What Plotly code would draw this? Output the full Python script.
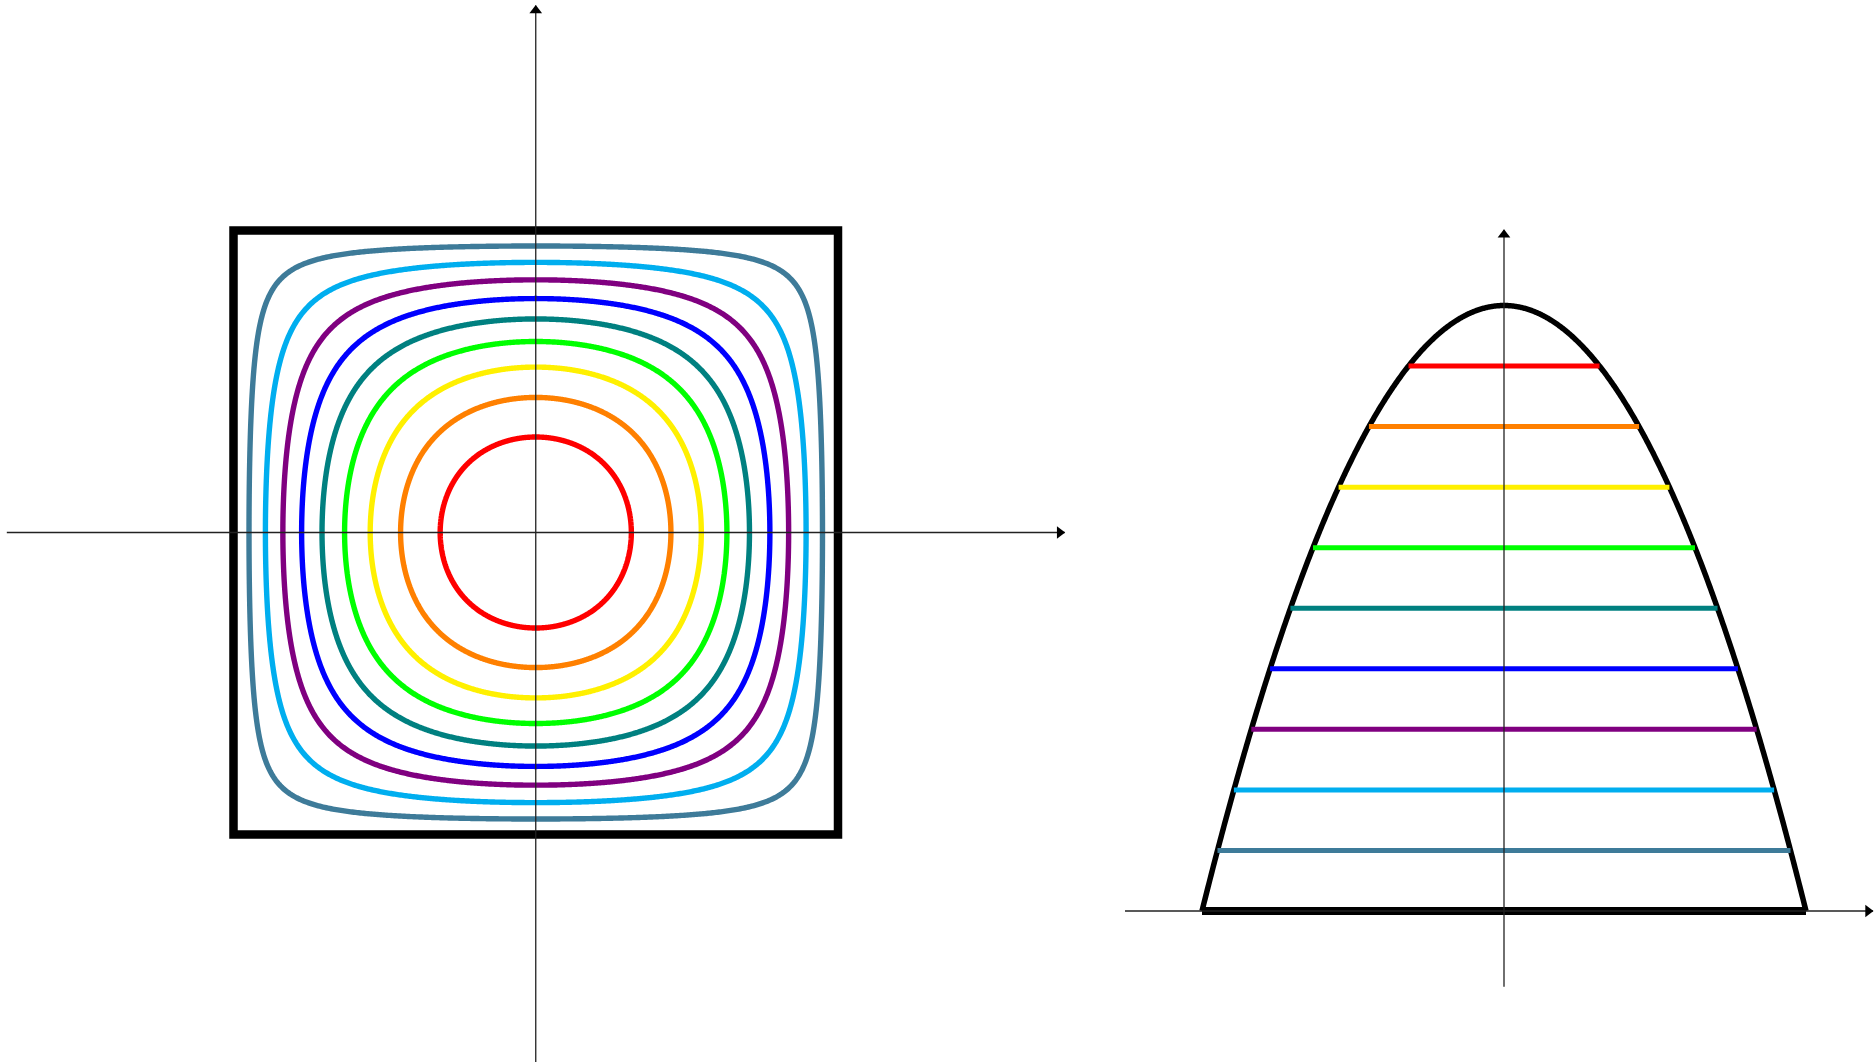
import numpy as np
import plotly.graph_objects as go

# Level values of u(x, y) = 1 - x^2 - y^2 + K x^2 y^2 on the square [-1, 1]^2
levels = [0.9, 0.8, 0.7, 0.6, 0.5, 0.4, 0.3, 0.2, 0.1]
level_colors = ["#FF0000", "#FF8000", "#FFF000", "#00FF00", "#008080",
                "#0000FF", "#800080", "#00AEEF", "#3E7B99"]
K = 1.03  # cross-term coefficient of the surface

W, H = 1875, 1062

fig = go.Figure()


def level_curve(c, n=1441):
    """Closed level set u(x, y) = c, traced in polar form."""
    t = np.linspace(0, 2 * np.pi, n)
    ab = (np.cos(t) * np.sin(t)) ** 2
    kab = K * ab
    disc = np.sqrt(np.clip(1 - 4 * kab * (1 - c), 0, None))
    s = np.where(kab < 1e-12, 1 - c, (1 - disc) / (2 * np.maximum(kab, 1e-12)))
    r = np.sqrt(s)
    return r * np.cos(t), r * np.sin(t)


# ---- left panel: level curves inside the square ----
for c, col in zip(levels, level_colors):
    x, y = level_curve(c)
    fig.add_trace(go.Scatter(x=x, y=y, mode="lines", xaxis="x", yaxis="y",
                             line=dict(color=col, width=5.4, simplify=False),
                             hoverinfo="skip"))

fig.add_shape(type="rect", xref="x", yref="y", x0=-1, y0=-1, x1=1, y1=1,
              line=dict(color="black", width=8.5), layer="below")

# ---- right panel: profile 1 - x^2 with horizontal level slices ----
xp = np.linspace(-1, 1, 801)
fig.add_trace(go.Scatter(x=xp, y=1 - xp ** 2, mode="lines", xaxis="x2", yaxis="y2",
                         line=dict(color="black", width=5.5, simplify=False),
                         hoverinfo="skip"))
fig.add_trace(go.Scatter(x=[-1, 1], y=[0, 0], mode="lines", xaxis="x2", yaxis="y2",
                         line=dict(color="black", width=8), hoverinfo="skip"))
for c, col in zip(levels, level_colors):
    half = np.sqrt(1 - c)
    fig.add_trace(go.Scatter(x=[-half, half], y=[c, c], mode="lines", xaxis="x2", yaxis="y2",
                             line=dict(color=col, width=5), hoverinfo="skip"))

# ---- coordinate axes with arrowheads ----
axis_col = "#222222"


def axis_arrow(x0, y0, x1, y1, xa, ya, symbol, back):
    fig.add_trace(go.Scatter(x=[x0, x1], y=[y0, y1], mode="lines", xaxis=xa, yaxis=ya,
                             line=dict(color=axis_col, width=1.3), hoverinfo="skip"))
    fig.add_trace(go.Scatter(x=[x1 - back[0]], y=[y1 - back[1]], mode="markers",
                             xaxis=xa, yaxis=ya,
                             marker=dict(symbol=symbol, size=11, color="black",
                                         line=dict(width=0)),
                             hoverinfo="skip"))


# pixel scales of each panel (px per data unit), used for arrowhead offsets
lsx, lsy = 302.25, 302.0
rsx, rsy = 302.0, 605.5

axis_arrow(-1.75, 0, 1.75, 0, "x", "y", "triangle-right", (5 / lsx, 0))
axis_arrow(0, -1.8, 0, 1.745, "x", "y", "triangle-up", (0, 5 / lsy))
axis_arrow(-1.255, 0, 1.222, 0, "x2", "y2", "triangle-right", (5 / rsx, 0))
axis_arrow(0, -0.125, 0, 1.125, "x2", "y2", "triangle-up", (0, 5 / rsy))

# ---- axes placement ----
split = 1100
lcx, lcy = 535.75, 532.5
rcx, rby = 1504.0, 911.0

hidden = dict(visible=False, showgrid=False, zeroline=False, fixedrange=True)
fig.update_layout(
    width=W, height=H, autosize=False,
    margin=dict(l=0, r=0, t=0, b=0),
    paper_bgcolor="white", plot_bgcolor="white",
    showlegend=False,
    xaxis=dict(domain=[0, split / W],
               range=[(0 - lcx) / lsx, (split - lcx) / lsx], **hidden),
    yaxis=dict(domain=[0, 1],
               range=[(lcy - H) / lsy, lcy / lsy], **hidden),
    xaxis2=dict(domain=[split / W, 1],
                range=[(split - rcx) / rsx, (W - rcx) / rsx], anchor="y2", **hidden),
    yaxis2=dict(domain=[0, 1],
                range=[(rby - H) / rsy, rby / rsy], anchor="x2", **hidden),
)

fig.write_html("out.html")
